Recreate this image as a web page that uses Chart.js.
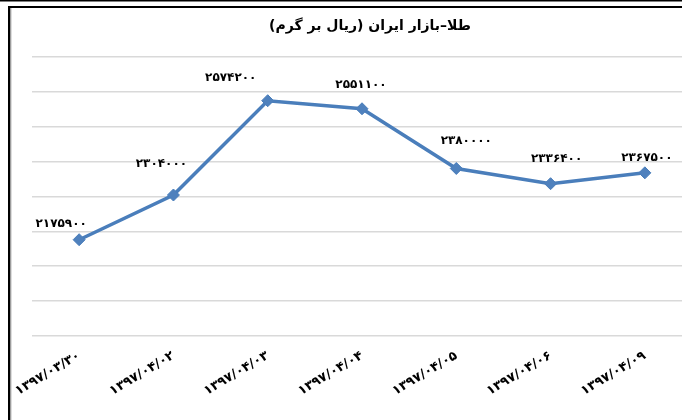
<!DOCTYPE html>
<html>
<head>
<meta charset="utf-8">
<script src="https://cdn.jsdelivr.net/npm/chart.js@4.4.1/dist/chart.umd.min.js"></script>
<style>
  html, body { margin: 0; padding: 0; background: #fff; overflow: hidden; width: 682px; height: 420px; }
  #wrap { position: absolute; left: 0; top: 0; width: 740px; height: 420px; }
</style>
</head>
<body>
<div id="wrap"><canvas id="c" width="740" height="420"></canvas></div>
<script>
// ---- data ----
const categories = ['۱۳۹۷/۰۳/۳۰', '۱۳۹۷/۰۴/۰۲', '۱۳۹۷/۰۴/۰۳', '۱۳۹۷/۰۴/۰۴', '۱۳۹۷/۰۴/۰۵', '۱۳۹۷/۰۴/۰۶', '۱۳۹۷/۰۴/۰۹'];
const prices = [2175900, 2304000, 2574200, 2551100, 2380000, 2336400, 2367500];
const titleText = 'طلا–بازار ایران (ریال بر گرم)';
const yMin = 1900000, yMax = 2700000, yStep = 100000;
// label offsets (px) relative to each point
const labelDx = [-18, -12, -37, -1, 10, 6, 2];
const labelDy = [-16, -31, -23, -24, -28, -25, -15];

const faDigits = '۰۱۲۳۴۵۶۷۸۹';
const toFa = n => String(n).replace(/[0-9]/g, d => faDigits[+d]);

const frame = {
  id: 'frame',
  beforeDraw(chart) {
    const ctx = chart.ctx;
    ctx.save();
    ctx.fillStyle = '#fff';
    ctx.fillRect(0, 0, chart.width, chart.height);
    ctx.fillStyle = '#000';
    ctx.fillRect(0, 0, chart.width, 1.5);
    ctx.fillRect(8, 6, chart.width, 2);
    ctx.fillRect(8, 6, 2.5, chart.height);
    ctx.fillStyle = '#bbb';
    ctx.fillRect(10.5, 8, 1, chart.height);
    ctx.restore();
  }
};

const valueLabels = {
  id: 'valueLabels',
  afterDatasetsDraw(chart) {
    const ctx = chart.ctx;
    const meta = chart.getDatasetMeta(0);
    ctx.save();
    ctx.font = 'bold 12px "DejaVu Sans"';
    ctx.fillStyle = '#000';
    ctx.textAlign = 'center';
    ctx.textBaseline = 'middle';
    meta.data.forEach((pt, i) => {
      ctx.fillText(toFa(prices[i]), pt.x + labelDx[i], pt.y + labelDy[i]);
    });
    ctx.restore();
  }
};

new Chart(document.getElementById('c'), {
  type: 'line',
  data: {
    labels: categories,
    datasets: [{
      data: prices,
      yAxisID: 'y',
      borderColor: '#4a7ebb',
      backgroundColor: '#4f81bd',
      borderWidth: 3.5,
      pointStyle: 'rectRot',
      pointRadius: 6,
      pointBorderWidth: 1,
      pointBorderColor: '#4a7ebb',
      pointBackgroundColor: '#4f81bd',
      tension: 0,
      fill: false
    }]
  },
  options: {
    responsive: false,
    animation: false,
    devicePixelRatio: 1,
    layout: { padding: 0 },
    plugins: {
      legend: { display: false },
      tooltip: { enabled: false },
      title: {
        display: true,
        text: '\u202B' + titleText + '\u202C',
        color: '#000',
        font: { family: '"DejaVu Sans"', size: 14, weight: 'bold' },
        padding: { top: 18, bottom: 22 }
      }
    },
    scales: {
      x: {
        offset: true,
        grid: { display: false },
        border: { display: false },
        ticks: {
          color: '#000',
          font: { family: '"DejaVu Sans"', size: 13, weight: 'bold' },
          minRotation: 31,
          maxRotation: 31,
          padding: 4
        },
        afterFit(s) { s.height = 84; }
      },
      y: {
        min: yMin,
        max: yMax,
        grid: { color: '#d9d9d9', lineWidth: 1.5, drawTicks: false },
        border: { display: false },
        ticks: { display: false, stepSize: yStep },
        afterFit(s) { s.width = 32; }
      },
      yPad: {
        position: 'right',
        display: true,
        min: yMin,
        max: yMax,
        grid: { display: false },
        border: { display: false },
        ticks: { display: false },
        afterFit(s) { s.width = 48; }
      }
    }
  },
  plugins: [frame, valueLabels]
});
</script>
</body>
</html>
